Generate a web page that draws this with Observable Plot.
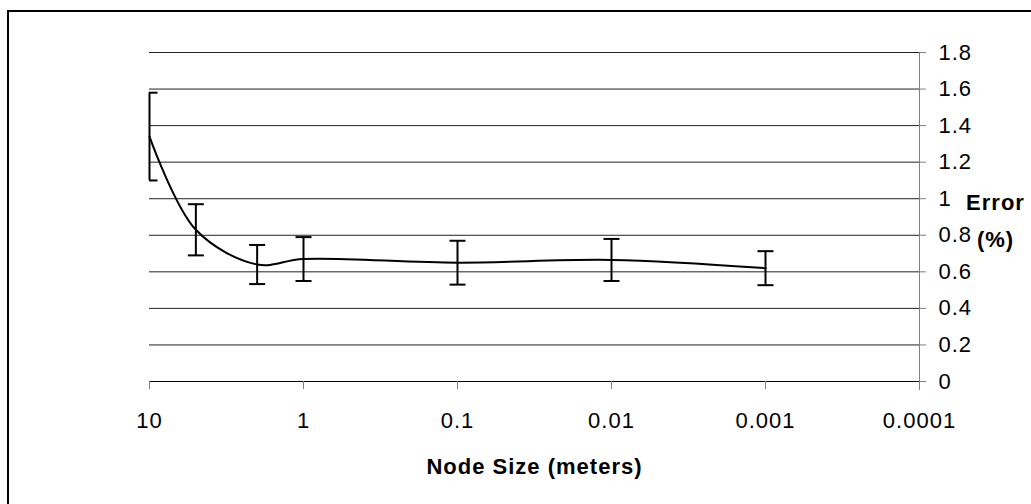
<!DOCTYPE html>
<html>
<head>
<meta charset="utf-8">
<script src="https://cdn.jsdelivr.net/npm/d3@7"></script>
<script src="https://cdn.jsdelivr.net/npm/@observablehq/plot@0.6"></script>
<style>
  html, body { margin: 0; padding: 0; background: #fff; }
  #wrap { position: relative; width: 1031px; height: 504px; overflow: hidden; }
  #chart { position: absolute; left: 0; top: 0; }
  #border { position: absolute; left: 7px; top: 10px; width: 1200px; height: 700px;
            border-left: 2px solid #000; border-top: 2px solid #000; z-index: 2; pointer-events: none; }
  #chart svg text { letter-spacing: 1px; }
</style>
</head>
<body>
<div id="wrap"><div id="chart"></div><div id="border"></div></div>
<script>
// ---- data ----
const nodeSizes = [10, 5, 2, 1, 0.1, 0.01, 0.001];
const errorPct  = [1.34, 0.83, 0.64, 0.67, 0.65, 0.665, 0.62];
const errorBar  = [0.24, 0.14, 0.107, 0.12, 0.12, 0.115, 0.093];

const xTicks = [10, 1, 0.1, 0.01, 0.001, 0.0001];
const xTickLabels = ["10", "1", "0.1", "0.01", "0.001", "0.0001"];
const yTicks = [0, 0.2, 0.4, 0.6, 0.8, 1, 1.2, 1.4, 1.6, 1.8];
const yTickLabels = ["0", "0.2", "0.4", "0.6", "0.8", "1", "1.2", "1.4", "1.6", "1.8"];
const xTitle = "Node Size (meters)";
const yTitleLines = ["Error", "(%)"];

const rows = nodeSizes.map((s, i) => ({
  size: s,
  err: errorPct[i],
  lo: errorPct[i] - errorBar[i],
  hi: errorPct[i] + errorBar[i]
}));

// horizontal cap symbol for error bars
const capSymbol = {
  draw(ctx, size) {
    const r = Math.sqrt(size / Math.PI);
    ctx.moveTo(-r, 0);
    ctx.lineTo(r, 0);
  }
};

const FONT = 22;

const chart = Plot.plot({
  width: 1031,
  height: 504,
  marginLeft: 149,
  marginRight: 112,
  marginTop: 52,
  marginBottom: 123,
  style: {
    fontFamily: "'Liberation Sans', Arial, sans-serif",
    fontSize: FONT + "px",
    background: "transparent",
    overflow: "visible",
    color: "#000"
  },
  x: { type: "log", domain: [10, 0.0001] },
  y: { domain: [0, 1.8] },
  marks: [
    Plot.gridY(yTicks, { stroke: "#222", strokeOpacity: 1, strokeWidth: 1 }),
    Plot.ruleY([0], { stroke: "#000", strokeWidth: 1 }),
    Plot.ruleX([0.0001], { stroke: "#808080", strokeWidth: 1, insetBottom: -9 }),
    Plot.axisX(xTicks, {
      anchor: "bottom",
      tickSize: 8,
      tickPadding: 23,
      stroke: "#808080",
      fill: "#000",
      fontSize: FONT,
      tickFormat: d => xTickLabels[xTicks.indexOf(d)],
      label: null
    }),
    Plot.axisY(yTicks, {
      anchor: "right",
      tickSize: 6,
      tickPadding: 13,
      stroke: "#808080",
      fill: "#000",
      fontSize: FONT,
      textAnchor: "start",
      tickFormat: d => yTickLabels[yTicks.indexOf(d)],
      label: null
    }),
    Plot.text([yTitleLines.join("\n")], {
      frameAnchor: "right",
      dx: 76,
      textAnchor: "middle",
      lineAnchor: "middle",
      lineHeight: 36.56 / FONT,
      fontWeight: "bold",
      fontSize: FONT,
      fill: "#000"
    }),
    Plot.text([xTitle], {
      frameAnchor: "bottom",
      dy: 85,
      lineAnchor: "middle",
      fontWeight: "bold",
      fontSize: FONT,
      fill: "#000"
    }),
    Plot.ruleX(rows, { x: "size", y1: "lo", y2: "hi", stroke: "#000", strokeWidth: 2 }),
    Plot.dot(rows, { x: "size", y: "hi", symbol: capSymbol, r: 8, stroke: "#000", strokeWidth: 2, fill: "none", clip: true }),
    Plot.dot(rows, { x: "size", y: "lo", symbol: capSymbol, r: 8, stroke: "#000", strokeWidth: 2, fill: "none", clip: true }),
    Plot.line(rows, { x: "size", y: "err", curve: "catmull-rom", stroke: "#000", strokeWidth: 2 })
  ]
});

document.getElementById("chart").appendChild(chart);
</script>
</body>
</html>
